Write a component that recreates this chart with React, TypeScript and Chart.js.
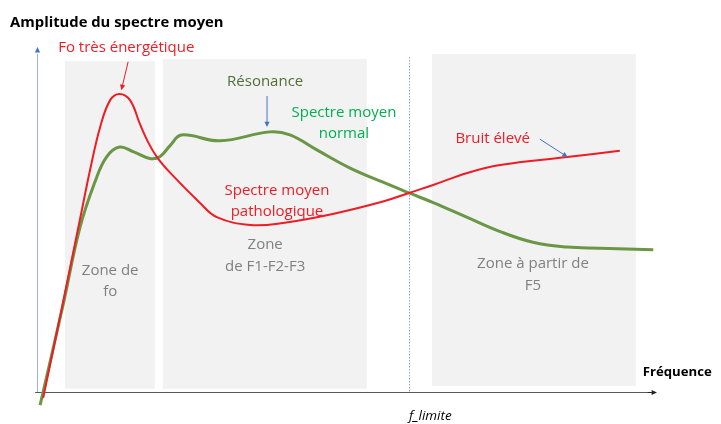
import React, { useEffect, useRef } from "react";
import { Chart, registerables } from "chart.js";

Chart.register(...registerables);

// Normalised frequency (0..100) and amplitude (0..100) readings
const redFreq = [1.0, 4.0, 7.4, 8.55, 10.2, 11.8, 13.3, 15.0, 16.6, 17.9, 19.35, 21.5, 26.3, 29.0, 34.4, 39.7, 47.7, 55.8, 60.0, 63.9, 69.4, 74.7, 85.5, 94.0];
const redAmp = [-1.7, 24.3, 54.2, 64.3, 76.9, 84.6, 86.4, 84.6, 77.7, 72.5, 68.1, 63.5, 54.8, 50.7, 48.4, 49.0, 51.6, 55.2, 57.7, 60.0, 63.5, 65.8, 68.1, 69.9];

const greenFreq = [0.5, 4.2, 6.9, 9.35, 11.2, 13.3, 15.5, 18.2, 19.8, 21.5, 23.3, 29.5, 37.6, 40.8, 45.2, 50.5, 55.8, 60.0, 63.9, 69.4, 74.7, 80.0, 85.5, 90.8, 99.4];
const greenAmp = [-3.8, 25.2, 47.5, 60.9, 68.1, 71.0, 69.7, 67.7, 68.2, 71.5, 74.5, 72.8, 75.4, 74.5, 70.1, 64.9, 60.8, 57.7, 54.9, 50.6, 46.5, 43.4, 42.0, 41.7, 41.2];

// Zones: [xStart, xEnd, yBottom, yTop]
const zoneNames = ["fo", "F1-F2-F3", "F5"];
const zoneX0 = [4.5, 20.3, 63.7];
const zoneX1 = [19.0, 53.2, 96.6];
const zoneY0 = [0.9, 0.9, 1.7];
const zoneY1 = [95.9, 96.5, 98.0];

const fLimite = 60;

type Label = { text: string; x: number; y: number; color: string; font: string; align: CanvasTextAlign };
const FONT = '"Open Sans", sans-serif';
const REG = `15px ${FONT}`;
const labels: Label[] = [
  { text: "Amplitude du spectre moyen", x: -4.35, y: 107.0, color: "#000000", font: `bold 14.8px ${FONT}`, align: "left" },
  { text: "Fo très énergétique", x: 14.4, y: 99.7, color: "#ee1c24", font: REG, align: "center" },
  { text: "Résonance", x: 36.8, y: 89.9, color: "#4f6f35", font: REG, align: "center" },
  { text: "Spectre moyen", x: 49.5, y: 80.9, color: "#00b050", font: REG, align: "center" },
  { text: "normal", x: 49.5, y: 74.8, color: "#00b050", font: REG, align: "center" },
  { text: "Spectre moyen", x: 38.7, y: 58.3, color: "#ee1c24", font: REG, align: "center" },
  { text: "pathologique", x: 38.7, y: 52.2, color: "#ee1c24", font: REG, align: "center" },
  { text: "Bruit élevé", x: 73.5, y: 73.3, color: "#ee1c24", font: REG, align: "center" },
  { text: "Zone de", x: 11.8, y: 35.1, color: "#808080", font: REG, align: "center" },
  { text: "fo", x: 11.8, y: 29.0, color: "#808080", font: REG, align: "center" },
  { text: "Zone", x: 36.8, y: 42.6, color: "#808080", font: REG, align: "center" },
  { text: "de F1-F2-F3", x: 36.8, y: 36.2, color: "#808080", font: REG, align: "center" },
  { text: "Zone à partir de", x: 80.0, y: 37.1, color: "#808080", font: REG, align: "center" },
  { text: "F5", x: 80.0, y: 30.7, color: "#808080", font: REG, align: "center" },
  { text: "Fréquence", x: 97.7, y: 5.8, color: "#000000", font: `bold 13.2px ${FONT}`, align: "left" },
  { text: "f_limite", x: 60.0, y: -7.0, color: "#000000", font: `italic 13.5px ${FONT}`, align: "left" },
];

// Arrows: from (x0,y0) to (x1,y1) in data units
type Arrow = { x0: number; y0: number; x1: number; y1: number; color: string };
const arrows: Arrow[] = [
  { x0: 14.7, y0: 95.7, x1: 13.6, y1: 87.5, color: "#ee1c24" },
  { x0: 37.1, y0: 85.8, x1: 37.1, y1: 76.8, color: "#4472c4" },
  { x0: 81.1, y0: 73.3, x1: 85.6, y1: 68.1, color: "#4472c4" },
];

function drawArrow(ctx: CanvasRenderingContext2D, x0: number, y0: number, x1: number, y1: number, color: string, width: number, head: number) {
  const ang = Math.atan2(y1 - y0, x1 - x0);
  ctx.save();
  ctx.strokeStyle = color;
  ctx.fillStyle = color;
  ctx.lineWidth = width;
  ctx.beginPath();
  ctx.moveTo(x0, y0);
  ctx.lineTo(x1 - Math.cos(ang) * head * 0.8, y1 - Math.sin(ang) * head * 0.8);
  ctx.stroke();
  ctx.beginPath();
  ctx.moveTo(x1, y1);
  ctx.lineTo(x1 - head * Math.cos(ang - 0.45), y1 - head * Math.sin(ang - 0.45));
  ctx.lineTo(x1 - head * Math.cos(ang + 0.45), y1 - head * Math.sin(ang + 0.45));
  ctx.closePath();
  ctx.fill();
  ctx.restore();
}

const diagramPlugin = {
  id: "diagram",
  beforeDatasetsDraw(chart: any) {
    const { ctx } = chart;
    const xs = chart.scales.x;
    const ys = chart.scales.y;
    ctx.save();
    // zones
    ctx.fillStyle = "#f2f2f2";
    zoneNames.forEach((_, i) => {
      const a = xs.getPixelForValue(zoneX0[i]);
      const b = xs.getPixelForValue(zoneX1[i]);
      const t = ys.getPixelForValue(zoneY1[i]);
      const bt = ys.getPixelForValue(zoneY0[i]);
      ctx.fillRect(a, t, b - a, bt - t);
    });
    // f_limite dotted line
    const fx = Math.round(xs.getPixelForValue(fLimite)) + 0.5;
    ctx.strokeStyle = "#8faadc";
    ctx.lineWidth = 1;
    ctx.setLineDash([1.5, 1.5]);
    ctx.beginPath();
    ctx.moveTo(fx, ys.getPixelForValue(97.1));
    ctx.lineTo(fx, ys.getPixelForValue(0));
    ctx.stroke();
    ctx.setLineDash([]);
    // axes
    const ox = Math.round(xs.getPixelForValue(0)) + 0.5;
    const oy = Math.round(ys.getPixelForValue(0)) + 0.5;
    ctx.strokeStyle = "#a3b1cc";
    ctx.beginPath();
    ctx.moveTo(ox, oy);
    ctx.lineTo(ox, ys.getPixelForValue(98));
    ctx.stroke();
    drawArrow(ctx, ox, ys.getPixelForValue(98.5), ox, ys.getPixelForValue(100), "#4472c4", 1, 6);
    ctx.strokeStyle = "#595959";
    ctx.beginPath();
    ctx.moveTo(xs.getPixelForValue(-0.3), oy);
    ctx.lineTo(xs.getPixelForValue(99), oy);
    ctx.stroke();
    drawArrow(ctx, xs.getPixelForValue(98.5), oy, xs.getPixelForValue(100), oy, "#262626", 1, 6);
    ctx.restore();
  },
  afterDatasetsDraw(chart: any) {
    const { ctx } = chart;
    const xs = chart.scales.x;
    const ys = chart.scales.y;
    ctx.save();
    ctx.textBaseline = "middle";
    labels.forEach((l) => {
      ctx.font = l.font;
      ctx.fillStyle = l.color;
      ctx.textAlign = l.align;
      ctx.fillText(l.text, xs.getPixelForValue(l.x), ys.getPixelForValue(l.y));
    });
    arrows.forEach((a) => {
      drawArrow(ctx, xs.getPixelForValue(a.x0), ys.getPixelForValue(a.y0), xs.getPixelForValue(a.x1), ys.getPixelForValue(a.y1), a.color, 1, 6);
    });
    ctx.restore();
  },
};

export default function App() {
  const ref = useRef<HTMLCanvasElement | null>(null);
  useEffect(() => {
    document.body.style.margin = "0";
    const canvas = ref.current;
    if (!canvas) return;
    const chart = new Chart(canvas, {
      type: "line",
      data: {
        datasets: [
          {
            label: "Spectre moyen pathologique",
            data: redFreq.map((x, i) => ({ x, y: redAmp[i] })),
            borderColor: "#ee1c24",
            borderWidth: 2,
            pointRadius: 0,
            tension: 0.4,
            clip: false as any,
          },
          {
            label: "Spectre moyen normal",
            data: greenFreq.map((x, i) => ({ x, y: greenAmp[i] })),
            borderColor: "#6a9646",
            borderWidth: 3,
            pointRadius: 0,
            tension: 0.4,
            clip: false as any,
          },
        ],
      },
      options: {
        animation: false,
        responsive: false,
        maintainAspectRatio: false,
        layout: { padding: { left: 37, right: 64, top: 47, bottom: 32 } },
        plugins: { legend: { display: false }, tooltip: { enabled: false } },
        scales: {
          x: { type: "linear", min: 0, max: 100, display: false },
          y: { type: "linear", min: 0, max: 100, display: false },
        },
      },
      plugins: [diagramPlugin],
    });
    return () => chart.destroy();
  }, []);
  return (
    <div style={{ width: 721, height: 424, background: "#ffffff" }}>
      <canvas ref={ref} width={721} height={424} style={{ display: "block" }} />
    </div>
  );
}
